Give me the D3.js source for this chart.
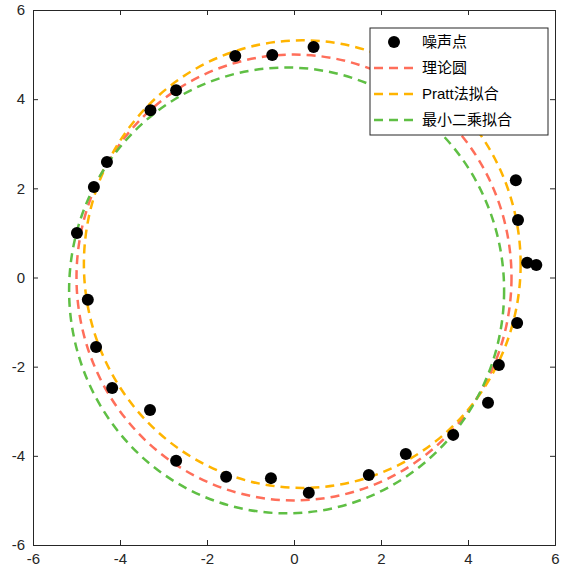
<!DOCTYPE html><html><head><meta charset="utf-8"><script src="https://cdn.jsdelivr.net/npm/d3@7"></script>
<style>body{margin:0;background:#fff}</style></head><body><svg id="c" width="572" height="577"></svg>
<script>
const ptsX=[-1.35,-0.5,0.45,-2.71,-3.3,-4.3,-4.6,-4.99,-4.74,-4.55,-4.18,-3.31,-2.71,-1.56,-0.53,0.34,1.72,2.57,3.66,4.46,4.71,5.13,5.1,5.15,5.36,5.57];
const ptsY=[4.97,4.99,5.17,4.2,3.75,2.59,2.03,1.0,-0.5,-1.56,-2.48,-2.97,-4.11,-4.47,-4.5,-4.83,-4.43,-3.96,-3.53,-2.81,-1.96,-1.02,2.18,1.29,0.33,0.28];
const circNames=["理论圆","Pratt法拟合","最小二乘拟合"];
const circCX=[0,0.19,-0.17], circCY=[0,0.3,-0.29], circR=[5.0,5.02,5.0];
const circColors=["#ff6e5a","#ffb400","#5fbf44"];
const ticks=[-6,-4,-2,0,2,4,6];
const svg=d3.select("#c");
const L=33,R=555,T=10,B=545;
const x=d3.scaleLinear().domain([-6,6]).range([L,R]);
const y=d3.scaleLinear().domain([-6,6]).range([B,T]);
const g=svg.append("g");
circCX.forEach((cx,i)=>{
  g.append("ellipse").attr("cx",x(cx)).attr("cy",y(circCY[i]))
   .attr("rx",x(circR[i])-x(0)).attr("ry",y(0)-y(circR[i]))
   .attr("fill","none").attr("stroke",circColors[i]).attr("stroke-width",2.5).attr("stroke-dasharray","9,6");
});
g.selectAll("circle.p").data(ptsX).join("circle").attr("cx",d=>x(d)).attr("cy",(d,i)=>y(ptsY[i])).attr("r",6).attr("fill","#000");
const font="Arial, 'Liberation Sans', sans-serif";
const fmt=d=>String(d);
svg.append("g").attr("transform",`translate(0,${B})`).call(d3.axisBottom(x).tickValues(ticks).tickSize(-5).tickPadding(8).tickFormat(fmt));
svg.append("g").attr("transform",`translate(${L},0)`).call(d3.axisLeft(y).tickValues(ticks).tickSize(-5).tickPadding(8).tickFormat(fmt));
svg.append("g").attr("transform",`translate(0,${T})`).call(d3.axisTop(x).tickValues(ticks).tickSize(-5).tickFormat(""));
svg.append("g").attr("transform",`translate(${R},0)`).call(d3.axisRight(y).tickValues(ticks).tickSize(-5).tickFormat(""));
svg.selectAll(".domain,.tick line").attr("stroke","#262626");
svg.selectAll(".tick text").attr("font-size",15).attr("font-family",font).attr("fill","#262626");
const lg=svg.append("g").attr("transform","translate(370,28)");
lg.append("rect").attr("width",178).attr("height",107).attr("fill","#fff").attr("stroke","#262626");
lg.append("circle").attr("cx",24).attr("cy",14).attr("r",6).attr("fill","#000");
lg.append("text").attr("x",52).attr("y",19).text("噪声点");
circNames.forEach((n,i)=>{
  const yy=14+(i+1)*26;
  lg.append("line").attr("x1",4).attr("x2",44).attr("y1",yy).attr("y2",yy).attr("stroke",circColors[i]).attr("stroke-width",2.5).attr("stroke-dasharray","9,6");
  lg.append("text").attr("x",52).attr("y",yy+5).text(n);
});
lg.selectAll("text").attr("font-size",15).attr("font-family","Arial,'Noto Sans CJK SC',sans-serif");
</script></body></html>
